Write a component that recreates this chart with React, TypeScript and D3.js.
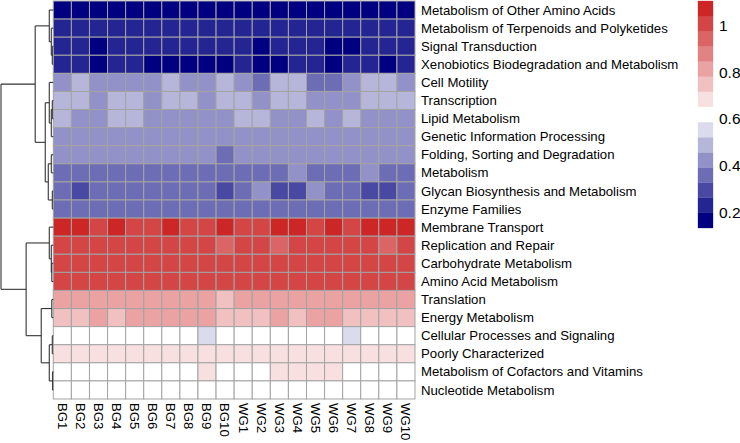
import React from "react";
import * as d3 from "d3";

const pathways = [
  "Metabolism of Other Amino Acids",
  "Metabolism of Terpenoids and Polyketides",
  "Signal Transduction",
  "Xenobiotics Biodegradation and Metabolism",
  "Cell Motility",
  "Transcription",
  "Lipid Metabolism",
  "Genetic Information Processing",
  "Folding, Sorting and Degradation",
  "Metabolism",
  "Glycan Biosynthesis and Metabolism",
  "Enzyme Families",
  "Membrane Transport",
  "Replication and Repair",
  "Carbohydrate Metabolism",
  "Amino Acid Metabolism",
  "Translation",
  "Energy Metabolism",
  "Cellular Processes and Signaling",
  "Poorly Characterized",
  "Metabolism of Cofactors and Vitamins",
  "Nucleotide Metabolism",
];

const samples = [
  "BG1", "BG2", "BG3", "BG4", "BG5", "BG6", "BG7", "BG8", "BG9", "BG10",
  "WG1", "WG2", "WG3", "WG4", "WG5", "WG6", "WG7", "WG8", "WG9", "WG10",
];

// relative abundance (scaled) per pathway (rows) x sample (columns)
const values: number[][] = [
  [0.16, 0.16, 0.16, 0.16, 0.16, 0.16, 0.16, 0.16, 0.16, 0.16, 0.16, 0.16, 0.16, 0.16, 0.16, 0.16, 0.16, 0.16, 0.16, 0.16],
  [0.23, 0.23, 0.23, 0.23, 0.23, 0.23, 0.23, 0.23, 0.23, 0.23, 0.23, 0.23, 0.23, 0.23, 0.23, 0.23, 0.23, 0.23, 0.23, 0.23],
  [0.23, 0.23, 0.16, 0.23, 0.23, 0.23, 0.23, 0.23, 0.23, 0.23, 0.23, 0.16, 0.23, 0.23, 0.23, 0.16, 0.16, 0.23, 0.23, 0.23],
  [0.23, 0.23, 0.16, 0.23, 0.23, 0.16, 0.16, 0.16, 0.16, 0.16, 0.23, 0.16, 0.16, 0.23, 0.23, 0.16, 0.23, 0.23, 0.16, 0.23],
  [0.42, 0.49, 0.42, 0.42, 0.42, 0.42, 0.49, 0.42, 0.42, 0.49, 0.42, 0.36, 0.49, 0.49, 0.36, 0.36, 0.42, 0.49, 0.49, 0.42],
  [0.49, 0.49, 0.42, 0.49, 0.49, 0.42, 0.49, 0.49, 0.42, 0.49, 0.49, 0.42, 0.49, 0.49, 0.42, 0.42, 0.42, 0.49, 0.49, 0.49],
  [0.49, 0.42, 0.42, 0.49, 0.49, 0.42, 0.42, 0.42, 0.42, 0.42, 0.49, 0.49, 0.42, 0.42, 0.49, 0.42, 0.49, 0.42, 0.42, 0.42],
  [0.42, 0.42, 0.42, 0.42, 0.42, 0.42, 0.42, 0.42, 0.42, 0.42, 0.42, 0.42, 0.42, 0.42, 0.42, 0.42, 0.42, 0.42, 0.42, 0.42],
  [0.42, 0.42, 0.42, 0.42, 0.42, 0.42, 0.42, 0.42, 0.42, 0.36, 0.42, 0.42, 0.42, 0.42, 0.42, 0.42, 0.42, 0.42, 0.42, 0.42],
  [0.36, 0.36, 0.36, 0.36, 0.36, 0.36, 0.36, 0.36, 0.36, 0.36, 0.36, 0.36, 0.36, 0.42, 0.36, 0.36, 0.36, 0.42, 0.36, 0.36],
  [0.36, 0.29, 0.36, 0.36, 0.36, 0.36, 0.36, 0.36, 0.36, 0.29, 0.36, 0.42, 0.29, 0.29, 0.42, 0.36, 0.36, 0.29, 0.29, 0.36],
  [0.36, 0.36, 0.36, 0.36, 0.36, 0.36, 0.36, 0.36, 0.36, 0.36, 0.36, 0.36, 0.36, 0.36, 0.36, 0.36, 0.36, 0.36, 0.36, 0.36],
  [1.07, 1.07, 1.01, 1.07, 1.01, 1.01, 1.07, 1.01, 1.01, 1.07, 1.01, 1.01, 1.07, 1.07, 1.01, 1.07, 1.01, 1.07, 1.07, 1.07],
  [1.01, 1.01, 1.01, 1.01, 1.01, 1.01, 1.01, 1.01, 1.01, 0.94, 1.01, 1.01, 0.94, 1.01, 1.01, 1.01, 1.01, 1.01, 0.94, 1.01],
  [1.01, 1.01, 1.01, 1.01, 1.01, 1.01, 1.01, 1.01, 1.01, 1.01, 1.01, 1.01, 1.01, 1.01, 1.01, 1.01, 1.01, 1.01, 1.01, 1.01],
  [1.01, 1.01, 1.01, 1.01, 1.01, 1.01, 1.01, 1.01, 1.01, 1.01, 1.01, 1.01, 1.01, 1.01, 1.01, 1.01, 1.01, 1.01, 1.01, 1.01],
  [0.81, 0.81, 0.81, 0.81, 0.81, 0.81, 0.81, 0.81, 0.81, 0.75, 0.81, 0.81, 0.81, 0.81, 0.81, 0.81, 0.81, 0.81, 0.81, 0.81],
  [0.75, 0.75, 0.81, 0.75, 0.81, 0.81, 0.81, 0.81, 0.81, 0.75, 0.75, 0.75, 0.81, 0.75, 0.81, 0.81, 0.75, 0.75, 0.75, 0.75],
  [0.62, 0.62, 0.62, 0.62, 0.62, 0.62, 0.62, 0.62, 0.55, 0.62, 0.62, 0.62, 0.62, 0.62, 0.62, 0.62, 0.55, 0.62, 0.62, 0.62],
  [0.68, 0.68, 0.68, 0.68, 0.68, 0.68, 0.68, 0.68, 0.68, 0.68, 0.68, 0.68, 0.68, 0.68, 0.68, 0.68, 0.68, 0.68, 0.68, 0.68],
  [0.62, 0.62, 0.62, 0.62, 0.62, 0.62, 0.62, 0.62, 0.68, 0.62, 0.62, 0.62, 0.68, 0.68, 0.68, 0.68, 0.62, 0.62, 0.62, 0.62],
  [0.62, 0.62, 0.62, 0.62, 0.62, 0.62, 0.62, 0.62, 0.62, 0.62, 0.62, 0.62, 0.62, 0.62, 0.62, 0.62, 0.62, 0.62, 0.62, 0.62],
];

const legendTicks = [0.2, 0.4, 0.6, 0.8, 1];
const colorStops = ["#000080", "#ffffff", "#CD2626"];
const nColors = 15;
const valueRange = [0.132, 1.107];

// row dendrogram: [left, right, height]; leaves are row indices
type Tree = number | [Tree, Tree, number];
const rowTree: Tree = [
  [
    [0, [1, [2, 3, 1], 2], 4],
    [[4, [[5, 6, 1], 7, 2], 4], [[8, 9, 2], [10, 11, 1], 5], 8],
    18,
  ],
  [
    [12, [13, [14, 15, 1.5], 2], 4],
    [[16, 17, 1.5], [[18, 19, 1], [20, 21, 0.7], 4], 12],
    27,
  ],
  52,
];

const W = 740;
const H = 443;
const FONT = "'Liberation Sans', Arial, Helvetica, sans-serif";

export default function App() {
  const gridLeft = 53.3;
  const gridRight = 415;
  const gridTop = 1;
  const gridBottom = 399;

  const x = d3.scaleBand<string>().domain(samples).range([gridLeft, gridRight]);
  const y = d3.scaleBand<string>().domain(pathways).range([gridTop, gridBottom]);

  const ramp = d3
    .scaleLinear<string>()
    .domain([0, (nColors - 1) / 2, nColors - 1])
    .range(colorStops)
    .interpolate(d3.interpolateRgb);
  const palette = d3.range(nColors).map((i) => ramp(i));
  const color = d3.scaleQuantize<string>().domain(valueRange).range(palette);

  // dendrogram
  const hx = d3.scaleLinear().domain([0, 52]).range([gridLeft, 1]);
  const segs: [number, number, number, number][] = [];
  const layout = (t: Tree): { y: number; h: number } => {
    if (typeof t === "number") {
      return { y: (y(pathways[t]) as number) + y.bandwidth() / 2, h: 0 };
    }
    const a = layout(t[0]);
    const b = layout(t[1]);
    const xh = hx(t[2]);
    segs.push([xh, a.y, xh, b.y]);
    segs.push([xh, a.y, hx(a.h), a.y]);
    segs.push([xh, b.y, hx(b.h), b.y]);
    return { y: (a.y + b.y) / 2, h: t[2] };
  };
  layout(rowTree);

  // legend
  const legX = 698;
  const legW = 15;
  const legTop = 1;
  const legBottom = 228;
  const ly = d3.scaleLinear().domain(valueRange).range([legBottom, legTop]);
  const binW = (valueRange[1] - valueRange[0]) / nColors;

  return (
    <svg
      width={W}
      height={H}
      style={{ position: "absolute", left: 0, top: 0, background: "#fff" }}
      fontFamily={FONT}
    >
      <g>
        {values.map((row, ri) =>
          row.map((v, ci) => (
            <rect
              key={`${ri}-${ci}`}
              x={x(samples[ci])}
              y={y(pathways[ri])}
              width={x.bandwidth()}
              height={y.bandwidth()}
              fill={color(v)}
              stroke="#a3a3a3"
              strokeWidth={1}
            />
          ))
        )}
      </g>
      <g stroke="#333" strokeWidth={1.1} fill="none">
        {segs.map((s, i) => (
          <line key={i} x1={s[0]} y1={s[1]} x2={s[2]} y2={s[3]} />
        ))}
      </g>
      <g fontSize={13.2} fill="#000">
        {pathways.map((p) => (
          <text
            key={p}
            x={gridRight + 6}
            y={(y(p) as number) + y.bandwidth() / 2}
            dy="0.35em"
          >
            {p}
          </text>
        ))}
      </g>
      <g fontSize={13.2} fill="#000">
        {samples.map((s) => (
          <text
            key={s}
            transform={`translate(${(x(s) as number) + x.bandwidth() / 2},${gridBottom + 4}) rotate(90)`}
            dy="0.35em"
          >
            {s}
          </text>
        ))}
      </g>
      <g>
        {palette.map((c, i) => {
          const lo = valueRange[0] + i * binW;
          const hi = lo + binW;
          return (
            <rect
              key={i}
              x={legX}
              y={ly(hi)}
              width={legW}
              height={ly(lo) - ly(hi)}
              fill={c}
              stroke={c}
              strokeWidth={0.3}
            />
          );
        })}
      </g>
      <g fontSize={15.5} fill="#000">
        {legendTicks.map((t) => (
          <text key={t} x={legX + legW + 6} y={ly(t)} dy="0.35em">
            {t}
          </text>
        ))}
      </g>
    </svg>
  );
}
